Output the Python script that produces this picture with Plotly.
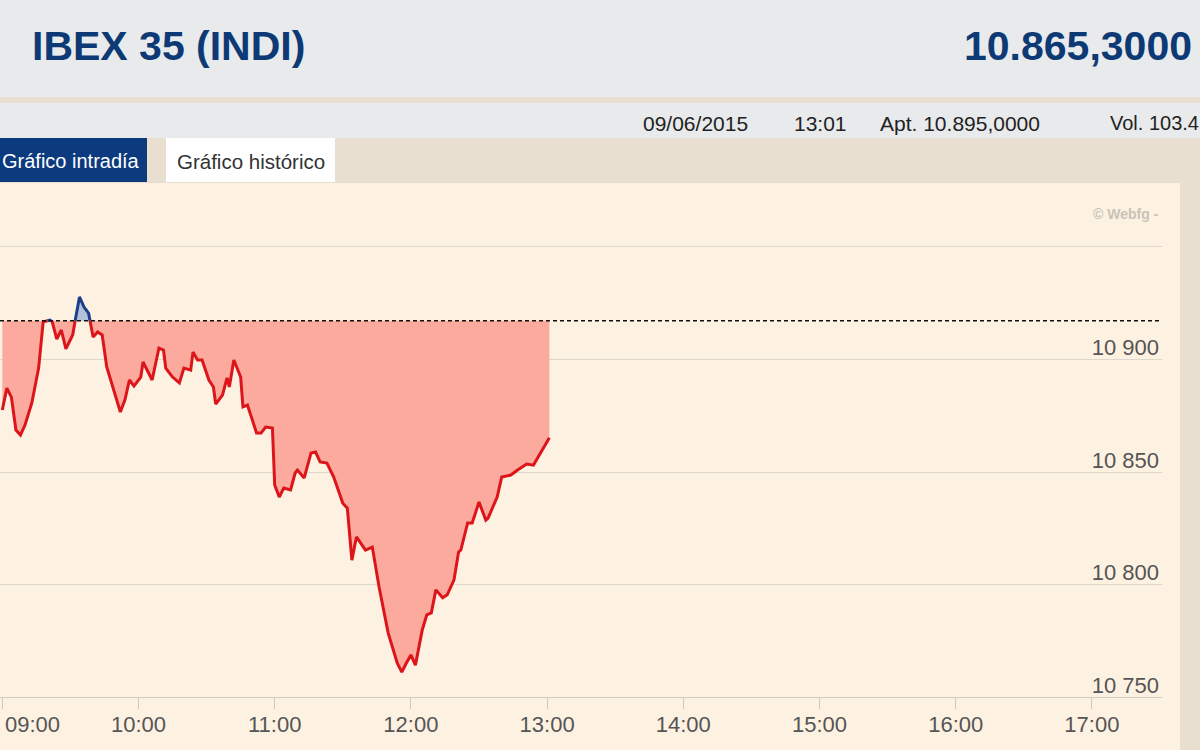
import numpy as np
import pandas as pd
import plotly.graph_objects as go

# ---------------- data ----------------
DATE = "2015-06-09"
TIMES = ["09:00", "09:02", "09:04", "09:06", "09:08", "09:10", "09:13", "09:16", "09:18", "09:21",
         "09:22", "09:24", "09:26", "09:28", "09:31", "09:32", "09:34", "09:36", "09:38", "09:40",
         "09:42", "09:44", "09:46", "09:49", "09:52", "09:54", "09:56", "09:58", "10:01", "10:02",
         "10:06", "10:09", "10:11", "10:12", "10:15", "10:18", "10:20", "10:23", "10:24", "10:26",
         "10:28", "10:31", "10:33", "10:34", "10:37", "10:39", "10:40", "10:42", "10:45", "10:46",
         "10:48", "10:52", "10:54", "10:56", "10:59", "11:00", "11:02", "11:04", "11:07", "11:09",
         "11:10", "11:13", "11:16", "11:18", "11:20", "11:23", "11:26", "11:30", "11:32", "11:34",
         "11:36", "11:40", "11:43", "11:46", "11:50", "11:54", "11:56", "11:58", "12:00", "12:02",
         "12:05", "12:07", "12:09", "12:11", "12:14", "12:16", "12:19", "12:21", "12:22", "12:25",
         "12:27", "12:30", "12:33", "12:34", "12:38", "12:40", "12:44", "12:47", "12:51", "12:54",
         "12:56", "13:01"]
VALUES = [10877.6, 10887.3, 10883.3, 10868.7, 10866.5, 10870.9, 10880.7, 10896.2, 10916.7, 10917.5,
          10916.7, 10909.1, 10913.1, 10904.7, 10910.9, 10916.7, 10927.8, 10923.3, 10920.6, 10910.0,
          10912.2, 10910.9, 10896.7, 10886.5, 10876.7, 10882.0, 10890.9, 10888.2, 10892.2, 10898.9,
          10890.9, 10905.1, 10904.2, 10896.2, 10892.2, 10889.6, 10896.2, 10895.3, 10903.3, 10899.8,
          10899.8, 10890.9, 10887.8, 10880.2, 10884.2, 10891.8, 10887.8, 10899.8, 10892.2, 10879.0,
          10879.8, 10867.4, 10867.4, 10870.0, 10869.6, 10844.3, 10838.9, 10842.9, 10842.1, 10849.6,
          10850.9, 10847.4, 10858.5, 10858.9, 10854.5, 10854.0, 10847.8, 10836.2, 10834.0, 10810.9,
          10821.2, 10815.4, 10816.7, 10798.9, 10778.5, 10765.2, 10761.2, 10765.2, 10768.8, 10764.3,
          10779.9, 10786.6, 10787.5, 10797.7, 10794.2, 10795.5, 10802.2, 10814.5, 10815.4, 10827.4,
          10827.4, 10836.7, 10828.7, 10829.6, 10838.9, 10847.8, 10848.7, 10850.9, 10853.6, 10853.1,
          10856.7, 10865.3]
PREV_CLOSE = 10917.2

Y_TICKS = [10750, 10800, 10850, 10900, 10950]
Y_TICK_TEXT = ["10 750", "10 800", "10 850", "10 900", ""]
X_TICK_LABELS = ["09:00", "10:00", "11:00", "12:00", "13:00", "14:00", "15:00", "16:00", "17:00"]

TITLE = "IBEX 35 (INDI)"
LAST = "10.865,3000"
INFO = [("09/06/2015", 641), ("13:01", 792), ("Apt. 10.895,0000", 878), ("Vol. 103.4", 1108)]

# ---------------- build series with crossing points ----------------
ts = pd.to_datetime([f"{DATE} {t}" for t in TIMES]).values.astype("int64")
vals = np.array(VALUES, dtype=float)
ref = PREV_CLOSE
xs, ys = [int(ts[0])], [vals[0]]
for i in range(1, len(vals)):
    y0, y1 = vals[i - 1], vals[i]
    if (y0 - ref) * (y1 - ref) < 0:
        f = (ref - y0) / (y1 - y0)
        xs.append(int(ts[i - 1] + f * (ts[i] - ts[i - 1])))
        ys.append(ref)
    xs.append(int(ts[i]))
    ys.append(y1)
x_dt = pd.to_datetime(np.array(xs, dtype="int64"))
ys = np.array(ys)

below = np.minimum(ys, ref)
above = np.maximum(ys, ref)
red_line = [y if y <= ref + 1e-9 else None for y in ys]
blue_line = [y if y >= ref - 1e-9 else None for y in ys]
base = [ref] * len(ys)

RED = "#dc151b"
BLUE = "#1d3f8a"

fig = go.Figure()
fig.add_trace(go.Scatter(x=x_dt, y=base, mode="lines", line=dict(width=0), hoverinfo="skip", showlegend=False))
fig.add_trace(go.Scatter(x=x_dt, y=below, mode="lines", line=dict(width=0), fill="tonexty",
                         fillcolor="#fcaa9d", hoverinfo="skip", showlegend=False))
fig.add_trace(go.Scatter(x=x_dt, y=base, mode="lines", line=dict(width=0), hoverinfo="skip", showlegend=False))
fig.add_trace(go.Scatter(x=x_dt, y=above, mode="lines", line=dict(width=0), fill="tonexty",
                         fillcolor="#b3c2da", hoverinfo="skip", showlegend=False))
fig.add_trace(go.Scatter(x=x_dt, y=red_line, mode="lines", line=dict(color=RED, width=3),
                         connectgaps=False, showlegend=False, name="IBEX 35"))
fig.add_trace(go.Scatter(x=x_dt, y=blue_line, mode="lines", line=dict(color=BLUE, width=3),
                         connectgaps=False, showlegend=False, name="IBEX 35"))

fig.add_hline(y=PREV_CLOSE, line=dict(color="#111111", width=1.5, dash="4px,3px"), layer="above")

# ---------------- page decoration ----------------
def band(x0, x1, y0, y1, color):
    fig.add_shape(type="rect", xref="paper", yref="paper", x0=x0 / 1200, x1=x1 / 1200,
                  y0=1 - y1 / 750, y1=1 - y0 / 750, fillcolor=color, line=dict(width=0), layer="below")

band(0, 1200, 0, 97, "#e9eaec")
band(0, 1200, 97, 103, "#e8dfd1")
band(0, 1200, 103, 138, "#e9eaec")
band(0, 1200, 138, 183, "#e8dfd1")
band(0, 147, 138, 182, "#0b3a7e")
band(166, 335, 138, 182, "#ffffff")
band(1180, 1200, 183, 750, "#e8dfd1")

def text(s, x, y, size, color, anchor="left", bold=False, family="Liberation Sans"):
    fig.add_annotation(text=f"<b>{s}</b>" if bold else s, xref="paper", yref="paper",
                       x=x / 1200, y=1 - y / 750, xanchor=anchor, yanchor="middle", showarrow=False,
                       font=dict(size=size, color=color, family=family))

text(TITLE, 30, 46, 41, "#0d3a75", bold=True)
text(LAST, 1194, 46, 41, "#0d3a75", anchor="right", bold=True)
for s, x in INFO:
    text(s, x, 123, 21 if not s.startswith("Vol") else 20, "#222222")
text("Gráfico intradía", 0, 161, 20, "#ffffff", anchor="left")
text("Gráfico histórico", 175, 161, 20.5, "#333333")
text("© Webfg -", 1161, 214, 14, "#c9c3b8", anchor="right", bold=True)

# 09:00 label (kept inside the page, as in the original)
fig.add_annotation(text=X_TICK_LABELS[0], x=f"{DATE} 09:00", y=Y_TICKS[0], xref="x", yref="y",
                   xanchor="left", yanchor="middle", yshift=-27, xshift=1, showarrow=False,
                   font=dict(size=22, color="#555555", family="Liberation Sans"))

tick_vals = [f"{DATE} {t}" for t in X_TICK_LABELS]
tick_text = [""] + X_TICK_LABELS[1:]

fig.update_layout(
    width=1200, height=750, autosize=False,
    margin=dict(l=0, r=0, t=0, b=0),
    paper_bgcolor="#fdf1e2", plot_bgcolor="rgba(0,0,0,0)",
    showlegend=False,
    xaxis=dict(
        type="date", domain=[0, 1162 / 1200],
        range=[f"{DATE} 08:58:59", f"{DATE} 17:30:53"],
        tickvals=tick_vals, ticktext=tick_text,
        showgrid=False, zeroline=False,
        showline=True, linecolor="#cfcac2", linewidth=1,
        ticks="outside", ticklen=11, tickcolor="#cfcac2", tickwidth=1,
        tickfont=dict(size=22, color="#555555", family="Liberation Sans"),
        ticklabelstandoff=-4, ticklabeloverflow="allow",
    ),
    yaxis=dict(
        domain=[1 - 697.3 / 750, 1 - 190 / 750],
        range=[10750, 10975.27],
        tickvals=Y_TICKS, ticktext=Y_TICK_TEXT,
        side="right", ticklabelposition="inside",
        ticklabelshift=-12, ticklabeloverflow="allow",
        showgrid=True, gridcolor="#ddd7cd", gridwidth=1,
        zeroline=False, showline=False, ticks="",
        tickfont=dict(size=22, color="#555555", family="Liberation Sans"),
    ),
)

fig.write_html(
    "out.html",
    config={"displayModeBar": False},
    post_script="document.body.style.margin='0';document.body.style.overflow='hidden';"
                "document.documentElement.style.overflow='hidden';",
)
